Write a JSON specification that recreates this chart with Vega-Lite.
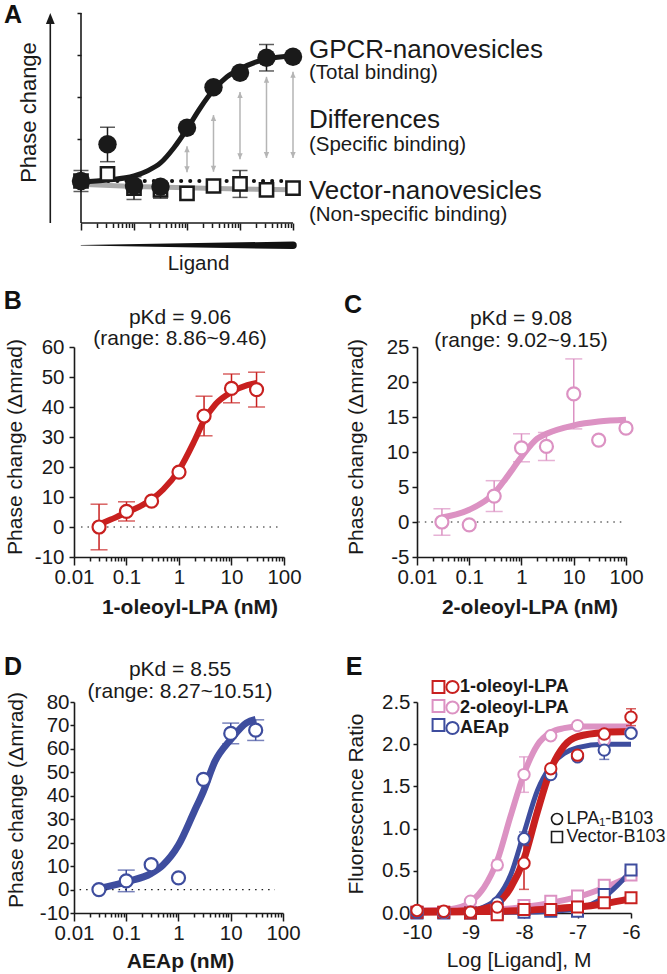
{
"$schema": "https://vega.github.io/schema/vega-lite/v6.json",
"background": "white",
"padding": {"left": 3, "top": 3, "right": 2, "bottom": 2},
"config": {
  "font": "Liberation Sans",
  "locale": {"number": {"decimal": ".", "thousands": ",", "grouping": [3], "currency": ["$", ""], "minus": "-"}},
  "view": {"stroke": null},
  "axis": {"domainColor": "#1a1a1a", "domainWidth": 1.6, "tickColor": "#1a1a1a", "tickWidth": 1.5, "labelColor": "#1a1a1a", "titleColor": "#1a1a1a", "labelFontSize": 20.5, "titleFontSize": 21, "titleFontWeight": "normal", "grid": false, "labelFlush": false, "labelOverlap": false, "labelBound": false, "labelSeparation": 0, "labelPadding": 4, "tickSize": 5},
  "text": {"color": "#1a1a1a"},
  "legend": {"labelColor": "#1a1a1a"}
},
"resolve": {"scale": {"shape": "independent", "size": "independent", "color": "independent", "stroke": "independent", "strokeWidth": "independent"}, "legend": {"shape": "independent", "size": "independent", "color": "independent", "stroke": "independent", "strokeWidth": "independent"}},
"datasets": {
  "a_pts": [
    {"conc": 1, "series": "GPCR", "value": 1.0},
    {"conc": 3.162, "series": "GPCR", "value": 1.874, "lo": 1.46, "hi": 2.28},
    {"conc": 10, "series": "GPCR", "value": 0.888},
    {"conc": 31.62, "series": "GPCR", "value": 0.864},
    {"conc": 100, "series": "GPCR", "value": 2.269},
    {"conc": 316.2, "series": "GPCR", "value": 3.231},
    {"conc": 1000, "series": "GPCR", "value": 3.579},
    {"conc": 3162, "series": "GPCR", "value": 3.936, "lo": 3.62, "hi": 4.25},
    {"conc": 10000, "series": "GPCR", "value": 3.96},
    {"conc": 1, "series": "Vector", "value": 1.0, "lo": 0.75, "hi": 1.25},
    {"conc": 3.162, "series": "Vector", "value": 1.167},
    {"conc": 10, "series": "Vector", "value": 0.833, "lo": 0.56, "hi": 1.1},
    {"conc": 31.62, "series": "Vector", "value": 0.786, "lo": 0.59, "hi": 0.98},
    {"conc": 100, "series": "Vector", "value": 0.707},
    {"conc": 316.2, "series": "Vector", "value": 0.881},
    {"conc": 1000, "series": "Vector", "value": 0.929, "lo": 0.61, "hi": 1.25},
    {"conc": 3162, "series": "Vector", "value": 0.786},
    {"conc": 10000, "series": "Vector", "value": 0.833}
  ],
  "a_fit": [
    {"conc": 1, "series": "GPCR", "value": 0.976},
    {"conc": 3.162, "series": "GPCR", "value": 1.024},
    {"conc": 10, "series": "GPCR", "value": 1.119},
    {"conc": 17.78, "series": "GPCR", "value": 1.238},
    {"conc": 31.62, "series": "GPCR", "value": 1.429},
    {"conc": 56.23, "series": "GPCR", "value": 1.786},
    {"conc": 100, "series": "GPCR", "value": 2.238},
    {"conc": 177.8, "series": "GPCR", "value": 2.738},
    {"conc": 316.2, "series": "GPCR", "value": 3.167},
    {"conc": 562.3, "series": "GPCR", "value": 3.476},
    {"conc": 1000, "series": "GPCR", "value": 3.667},
    {"conc": 3162, "series": "GPCR", "value": 3.905},
    {"conc": 10000, "series": "GPCR", "value": 3.976},
    {"conc": 1, "series": "Vector", "value": 0.92},
    {"conc": 10, "series": "Vector", "value": 0.87},
    {"conc": 100, "series": "Vector", "value": 0.84},
    {"conc": 1000, "series": "Vector", "value": 0.81},
    {"conc": 10000, "series": "Vector", "value": 0.79}
  ],
  "a_arrows": [
    {"conc": 100, "lo": 1.21, "hi": 1.83},
    {"conc": 316.2, "lo": 1.22, "hi": 2.57},
    {"conc": 1000, "lo": 1.52, "hi": 3.12},
    {"conc": 3162, "lo": 1.55, "hi": 3.48},
    {"conc": 10000, "lo": 1.55, "hi": 3.6}
  ],
  "a_labels": [
    {"label": "GPCR-nanovesicles", "kind": "main", "yv": 3.93},
    {"label": "(Total binding)", "kind": "sub", "yv": 3.43},
    {"label": "Differences", "kind": "main", "yv": 2.26},
    {"label": "(Specific binding)", "kind": "sub", "yv": 1.71},
    {"label": "Vector-nanovesicles", "kind": "main", "yv": 0.571},
    {"label": "(Non-specific binding)", "kind": "sub", "yv": 0.05}
  ],
  "b_pts": [
    {"conc": 0.03, "value": 0, "lo": -7.6, "hi": 7.6},
    {"conc": 0.1, "value": 5.2, "lo": 2.0, "hi": 8.4},
    {"conc": 0.3, "value": 8.6},
    {"conc": 1, "value": 18.3},
    {"conc": 3, "value": 37.0, "lo": 30.4, "hi": 43.6},
    {"conc": 10, "value": 46.2, "lo": 41.4, "hi": 51.0},
    {"conc": 30, "value": 45.8, "lo": 40.0, "hi": 51.6}
  ],
  "b_fit": [
    {"conc": 0.03, "value": 0.8}, {"conc": 0.05, "value": 2.5}, {"conc": 0.1, "value": 4.8},
    {"conc": 0.2, "value": 7.3}, {"conc": 0.3, "value": 9.2}, {"conc": 0.5, "value": 12.5},
    {"conc": 1, "value": 19}, {"conc": 2, "value": 29}, {"conc": 3, "value": 35.5},
    {"conc": 5, "value": 41}, {"conc": 10, "value": 45}, {"conc": 20, "value": 47.3}, {"conc": 30, "value": 48}
  ],
  "c_pts": [
    {"conc": 0.03, "value": 0, "lo": -1.9, "hi": 1.9},
    {"conc": 0.1, "value": -0.4},
    {"conc": 0.3, "value": 3.7, "lo": 1.5, "hi": 5.9},
    {"conc": 1, "value": 10.6, "lo": 8.6, "hi": 12.6},
    {"conc": 3, "value": 10.8, "lo": 8.8, "hi": 12.8},
    {"conc": 10, "value": 18.3, "lo": 13.3, "hi": 23.3},
    {"conc": 30, "value": 11.7},
    {"conc": 100, "value": 13.4}
  ],
  "c_fit": [
    {"conc": 0.03, "value": 0.66}, {"conc": 0.1, "value": 1.75}, {"conc": 0.3, "value": 4.1},
    {"conc": 0.5, "value": 6.2}, {"conc": 1, "value": 9.3}, {"conc": 2, "value": 11.9},
    {"conc": 3, "value": 12.6}, {"conc": 10, "value": 13.8}, {"conc": 30, "value": 14.35}, {"conc": 100, "value": 14.6}
  ],
  "d_pts": [
    {"conc": 0.03, "value": 0},
    {"conc": 0.1, "value": 3.7, "lo": -0.9, "hi": 8.3},
    {"conc": 0.3, "value": 10.6},
    {"conc": 1, "value": 5.0},
    {"conc": 3, "value": 47.0},
    {"conc": 10, "value": 66.6, "lo": 62.2, "hi": 71.0},
    {"conc": 30, "value": 68.0, "lo": 63.6, "hi": 72.4}
  ],
  "d_fit": [
    {"conc": 0.03, "value": 0.5}, {"conc": 0.1, "value": 3.3}, {"conc": 0.3, "value": 6.9},
    {"conc": 0.5, "value": 10.4}, {"conc": 1, "value": 19}, {"conc": 2, "value": 33.3},
    {"conc": 3, "value": 41.9}, {"conc": 5, "value": 54.7}, {"conc": 10, "value": 64},
    {"conc": 20, "value": 71.1}, {"conc": 30, "value": 72.6}
  ],
  "e_pts": [
    {"x": -10, "compound": "2-oleoyl-LPA", "cell": "Vector-B103", "value": 0.01},
    {"x": -9.5, "compound": "2-oleoyl-LPA", "cell": "Vector-B103", "value": 0.01},
    {"x": -9, "compound": "2-oleoyl-LPA", "cell": "Vector-B103", "value": 0.01},
    {"x": -8.5, "compound": "2-oleoyl-LPA", "cell": "Vector-B103", "value": 0.03},
    {"x": -8, "compound": "2-oleoyl-LPA", "cell": "Vector-B103", "value": 0.09},
    {"x": -7.5, "compound": "2-oleoyl-LPA", "cell": "Vector-B103", "value": 0.14},
    {"x": -7, "compound": "2-oleoyl-LPA", "cell": "Vector-B103", "value": 0.2},
    {"x": -6.5, "compound": "2-oleoyl-LPA", "cell": "Vector-B103", "value": 0.33},
    {"x": -6, "compound": "2-oleoyl-LPA", "cell": "Vector-B103", "value": 0.45},
    {"x": -10, "compound": "AEAp", "cell": "Vector-B103", "value": 0.0},
    {"x": -9.5, "compound": "AEAp", "cell": "Vector-B103", "value": 0.0},
    {"x": -9, "compound": "AEAp", "cell": "Vector-B103", "value": 0.0},
    {"x": -8.5, "compound": "AEAp", "cell": "Vector-B103", "value": 0.0},
    {"x": -8, "compound": "AEAp", "cell": "Vector-B103", "value": 0.01},
    {"x": -7.5, "compound": "AEAp", "cell": "Vector-B103", "value": 0.02},
    {"x": -7, "compound": "AEAp", "cell": "Vector-B103", "value": 0.02},
    {"x": -6.5, "compound": "AEAp", "cell": "Vector-B103", "value": 0.22},
    {"x": -6, "compound": "AEAp", "cell": "Vector-B103", "value": 0.51},
    {"x": -10, "compound": "1-oleoyl-LPA", "cell": "Vector-B103", "value": 0.01},
    {"x": -9.5, "compound": "1-oleoyl-LPA", "cell": "Vector-B103", "value": 0.01},
    {"x": -9, "compound": "1-oleoyl-LPA", "cell": "Vector-B103", "value": 0.0},
    {"x": -8.5, "compound": "1-oleoyl-LPA", "cell": "Vector-B103", "value": -0.02},
    {"x": -8, "compound": "1-oleoyl-LPA", "cell": "Vector-B103", "value": 0.04},
    {"x": -7.5, "compound": "1-oleoyl-LPA", "cell": "Vector-B103", "value": 0.04},
    {"x": -7, "compound": "1-oleoyl-LPA", "cell": "Vector-B103", "value": 0.07},
    {"x": -6.5, "compound": "1-oleoyl-LPA", "cell": "Vector-B103", "value": 0.12},
    {"x": -6, "compound": "1-oleoyl-LPA", "cell": "Vector-B103", "value": 0.18},
    {"x": -10, "compound": "2-oleoyl-LPA", "cell": "LPA\u2081-B103", "value": 0.02},
    {"x": -9.5, "compound": "2-oleoyl-LPA", "cell": "LPA\u2081-B103", "value": 0.01},
    {"x": -9, "compound": "2-oleoyl-LPA", "cell": "LPA\u2081-B103", "value": 0.14},
    {"x": -8.5, "compound": "2-oleoyl-LPA", "cell": "LPA\u2081-B103", "value": 0.57, "lo": 0.51, "hi": 0.63},
    {"x": -8, "compound": "2-oleoyl-LPA", "cell": "LPA\u2081-B103", "value": 1.64, "lo": 1.43, "hi": 1.85},
    {"x": -7.5, "compound": "2-oleoyl-LPA", "cell": "LPA\u2081-B103", "value": 2.1},
    {"x": -7, "compound": "2-oleoyl-LPA", "cell": "LPA\u2081-B103", "value": 2.22},
    {"x": -6.5, "compound": "2-oleoyl-LPA", "cell": "LPA\u2081-B103", "value": 2.05},
    {"x": -6, "compound": "2-oleoyl-LPA", "cell": "LPA\u2081-B103", "value": 2.14},
    {"x": -10, "compound": "AEAp", "cell": "LPA\u2081-B103", "value": 0.01},
    {"x": -9.5, "compound": "AEAp", "cell": "LPA\u2081-B103", "value": 0.01},
    {"x": -9, "compound": "AEAp", "cell": "LPA\u2081-B103", "value": 0.01},
    {"x": -8.5, "compound": "AEAp", "cell": "LPA\u2081-B103", "value": 0.12},
    {"x": -8, "compound": "AEAp", "cell": "LPA\u2081-B103", "value": 0.88, "lo": 0.8, "hi": 0.96},
    {"x": -7.5, "compound": "AEAp", "cell": "LPA\u2081-B103", "value": 1.64},
    {"x": -7, "compound": "AEAp", "cell": "LPA\u2081-B103", "value": 1.85},
    {"x": -6.5, "compound": "AEAp", "cell": "LPA\u2081-B103", "value": 1.93, "lo": 1.82, "hi": 2.04},
    {"x": -6, "compound": "AEAp", "cell": "LPA\u2081-B103", "value": 2.13},
    {"x": -10, "compound": "1-oleoyl-LPA", "cell": "LPA\u2081-B103", "value": 0.03},
    {"x": -9.5, "compound": "1-oleoyl-LPA", "cell": "LPA\u2081-B103", "value": 0.02},
    {"x": -9, "compound": "1-oleoyl-LPA", "cell": "LPA\u2081-B103", "value": 0.01},
    {"x": -8.5, "compound": "1-oleoyl-LPA", "cell": "LPA\u2081-B103", "value": 0.07},
    {"x": -8, "compound": "1-oleoyl-LPA", "cell": "LPA\u2081-B103", "value": 0.59, "lo": 0.28, "hi": 0.9},
    {"x": -7.5, "compound": "1-oleoyl-LPA", "cell": "LPA\u2081-B103", "value": 1.71},
    {"x": -7, "compound": "1-oleoyl-LPA", "cell": "LPA\u2081-B103", "value": 1.87},
    {"x": -6.5, "compound": "1-oleoyl-LPA", "cell": "LPA\u2081-B103", "value": 2.12},
    {"x": -6, "compound": "1-oleoyl-LPA", "cell": "LPA\u2081-B103", "value": 2.32, "lo": 2.22, "hi": 2.42}
  ],
  "e_fit": [
    {"x": -10, "compound": "2-oleoyl-LPA", "fit": "LPA1", "value": 0.03},
    {"x": -9.5, "compound": "2-oleoyl-LPA", "fit": "LPA1", "value": 0.04},
    {"x": -9.25, "compound": "2-oleoyl-LPA", "fit": "LPA1", "value": 0.06},
    {"x": -9, "compound": "2-oleoyl-LPA", "fit": "LPA1", "value": 0.13},
    {"x": -8.75, "compound": "2-oleoyl-LPA", "fit": "LPA1", "value": 0.3},
    {"x": -8.5, "compound": "2-oleoyl-LPA", "fit": "LPA1", "value": 0.62},
    {"x": -8.25, "compound": "2-oleoyl-LPA", "fit": "LPA1", "value": 1.15},
    {"x": -8, "compound": "2-oleoyl-LPA", "fit": "LPA1", "value": 1.65},
    {"x": -7.75, "compound": "2-oleoyl-LPA", "fit": "LPA1", "value": 1.99},
    {"x": -7.5, "compound": "2-oleoyl-LPA", "fit": "LPA1", "value": 2.14},
    {"x": -7.25, "compound": "2-oleoyl-LPA", "fit": "LPA1", "value": 2.19},
    {"x": -7, "compound": "2-oleoyl-LPA", "fit": "LPA1", "value": 2.21},
    {"x": -6.5, "compound": "2-oleoyl-LPA", "fit": "LPA1", "value": 2.21},
    {"x": -6, "compound": "2-oleoyl-LPA", "fit": "LPA1", "value": 2.21},
    {"x": -10, "compound": "2-oleoyl-LPA", "fit": "Vector", "value": 0.02},
    {"x": -9, "compound": "2-oleoyl-LPA", "fit": "Vector", "value": 0.02},
    {"x": -8.5, "compound": "2-oleoyl-LPA", "fit": "Vector", "value": 0.04},
    {"x": -8, "compound": "2-oleoyl-LPA", "fit": "Vector", "value": 0.07},
    {"x": -7.5, "compound": "2-oleoyl-LPA", "fit": "Vector", "value": 0.12},
    {"x": -7, "compound": "2-oleoyl-LPA", "fit": "Vector", "value": 0.19},
    {"x": -6.5, "compound": "2-oleoyl-LPA", "fit": "Vector", "value": 0.3},
    {"x": -6, "compound": "2-oleoyl-LPA", "fit": "Vector", "value": 0.44},
    {"x": -10, "compound": "AEAp", "fit": "LPA1", "value": 0.02},
    {"x": -9.5, "compound": "AEAp", "fit": "LPA1", "value": 0.02},
    {"x": -9, "compound": "AEAp", "fit": "LPA1", "value": 0.03},
    {"x": -8.75, "compound": "AEAp", "fit": "LPA1", "value": 0.07},
    {"x": -8.5, "compound": "AEAp", "fit": "LPA1", "value": 0.18},
    {"x": -8.25, "compound": "AEAp", "fit": "LPA1", "value": 0.45},
    {"x": -8, "compound": "AEAp", "fit": "LPA1", "value": 0.95},
    {"x": -7.75, "compound": "AEAp", "fit": "LPA1", "value": 1.45},
    {"x": -7.5, "compound": "AEAp", "fit": "LPA1", "value": 1.74},
    {"x": -7.25, "compound": "AEAp", "fit": "LPA1", "value": 1.89},
    {"x": -7, "compound": "AEAp", "fit": "LPA1", "value": 1.96},
    {"x": -6.5, "compound": "AEAp", "fit": "LPA1", "value": 2.0},
    {"x": -6, "compound": "AEAp", "fit": "LPA1", "value": 2.0},
    {"x": -10, "compound": "AEAp", "fit": "Vector", "value": 0.01},
    {"x": -8, "compound": "AEAp", "fit": "Vector", "value": 0.01},
    {"x": -7.5, "compound": "AEAp", "fit": "Vector", "value": 0.02},
    {"x": -7, "compound": "AEAp", "fit": "Vector", "value": 0.05},
    {"x": -6.75, "compound": "AEAp", "fit": "Vector", "value": 0.1},
    {"x": -6.5, "compound": "AEAp", "fit": "Vector", "value": 0.19},
    {"x": -6.25, "compound": "AEAp", "fit": "Vector", "value": 0.33},
    {"x": -6, "compound": "AEAp", "fit": "Vector", "value": 0.5},
    {"x": -10, "compound": "1-oleoyl-LPA", "fit": "LPA1", "value": 0.02},
    {"x": -9.5, "compound": "1-oleoyl-LPA", "fit": "LPA1", "value": 0.02},
    {"x": -9, "compound": "1-oleoyl-LPA", "fit": "LPA1", "value": 0.03},
    {"x": -8.75, "compound": "1-oleoyl-LPA", "fit": "LPA1", "value": 0.05},
    {"x": -8.5, "compound": "1-oleoyl-LPA", "fit": "LPA1", "value": 0.11},
    {"x": -8.25, "compound": "1-oleoyl-LPA", "fit": "LPA1", "value": 0.3},
    {"x": -8, "compound": "1-oleoyl-LPA", "fit": "LPA1", "value": 0.64},
    {"x": -7.75, "compound": "1-oleoyl-LPA", "fit": "LPA1", "value": 1.2},
    {"x": -7.5, "compound": "1-oleoyl-LPA", "fit": "LPA1", "value": 1.7},
    {"x": -7.25, "compound": "1-oleoyl-LPA", "fit": "LPA1", "value": 1.98},
    {"x": -7, "compound": "1-oleoyl-LPA", "fit": "LPA1", "value": 2.09},
    {"x": -6.5, "compound": "1-oleoyl-LPA", "fit": "LPA1", "value": 2.14},
    {"x": -6, "compound": "1-oleoyl-LPA", "fit": "LPA1", "value": 2.15},
    {"x": -10, "compound": "1-oleoyl-LPA", "fit": "Vector", "value": 0.01},
    {"x": -9, "compound": "1-oleoyl-LPA", "fit": "Vector", "value": 0.015},
    {"x": -8, "compound": "1-oleoyl-LPA", "fit": "Vector", "value": 0.03},
    {"x": -7.5, "compound": "1-oleoyl-LPA", "fit": "Vector", "value": 0.05},
    {"x": -7, "compound": "1-oleoyl-LPA", "fit": "Vector", "value": 0.07},
    {"x": -6.5, "compound": "1-oleoyl-LPA", "fit": "Vector", "value": 0.11},
    {"x": -6, "compound": "1-oleoyl-LPA", "fit": "Vector", "value": 0.17}
  ]
},
"columns": 2,
"spacing": {"row": 145, "column": 124},
"bounds": "flush",
"align": "each",
"concat": [
  {
    "width": 219,
    "height": 189,
    "layer": [
      {
        "data": {"values": [{"conc": 1}, {"conc": 10000}]},
        "mark": {"type": "trail", "color": "#111111"},
        "encoding": {
          "x": {"field": "conc", "type": "quantitative", "scale": {"type": "log", "domain": [0.738, 10000], "nice": false},
            "axis": {"values": [1,2,3,4,5,6,7,8,9,10,20,30,40,50,60,70,80,90,100,200,300,400,500,600,700,800,900,1000,2000,3000,4000,5000,6000,7000,8000,9000,10000], "tickCount": 100,
              "domain": false, "offset": 21, "labels": false, "tickSize": {"condition": {"test": "indexof([1,10,100,1000,10000], datum.value) >= 0", "value": 7}, "value": 4.5},
              "title": "Ligand", "titleFontSize": 20.5, "titleX": 124, "titleY": 40, "titleAlign": "center", "titleBaseline": "middle"}},
          "y": {"datum": -0.53, "type": "quantitative", "scale": {"domain": [0.5, 5], "nice": false, "zero": false},
            "axis": {"values": [1,2,3,4,5], "tickCount": 100, "domain": false, "offset": -7, "labels": false, "tickSize": 4, "title": "Phase change", "titleFontSize": 22, "titleX": -53, "titleY": 99, "titleAngle": 270, "titleAlign": "center", "titleBaseline": "middle"}},
          "size": {"field": "conc", "type": "quantitative", "scale": {"type": "log", "domain": [1, 10000], "range": [0.6, 7.5]}, "legend": null}
        }
      },
      {
        "data": {"values": [{"axis": "x"}]},
        "mark": {"type": "rule", "color": "#1a1a1a", "strokeWidth": 1.6},
        "encoding": {
          "x": {"datum": 1, "type": "quantitative", "scale": {"type": "log", "domain": [0.738, 10000], "nice": false}},
          "x2": {"datum": 10000},
          "y": {"datum": 0, "type": "quantitative", "scale": {"domain": [0.5, 5], "nice": false, "zero": false}}
        }
      },
      {
        "data": {"values": [{"axis": "y"}]},
        "mark": {"type": "rule", "color": "#1a1a1a", "strokeWidth": 1.6},
        "encoding": {
          "x": {"datum": 1, "type": "quantitative", "scale": {"type": "log", "domain": [0.738, 10000], "nice": false}},
          "y": {"datum": 0, "type": "quantitative", "scale": {"domain": [0.5, 5], "nice": false, "zero": false}},
          "y2": {"datum": 5}
        }
      },
      {
        "data": {"name": "a_fit"},
        "transform": [{"filter": "datum.series == 'Vector'"}],
        "mark": {"type": "line", "color": "#aaaaaa", "strokeWidth": 5, "interpolate": "monotone"},
        "encoding": {
          "x": {"field": "conc", "type": "quantitative", "scale": {"type": "log", "domain": [0.738, 10000], "nice": false}},
          "y": {"field": "value", "type": "quantitative", "scale": {"domain": [0.5, 5], "nice": false, "zero": false}}
        }
      },
      {
        "data": {"values": [{"level": 1.0}]},
        "mark": {"type": "rule", "color": "#111111", "strokeWidth": 4, "strokeDash": [0.1, 9], "strokeCap": "round"},
        "encoding": {
          "x": {"datum": 1, "type": "quantitative", "scale": {"type": "log", "domain": [0.738, 10000], "nice": false}},
          "x2": {"datum": 6000},
          "y": {"field": "level", "type": "quantitative", "scale": {"domain": [0.5, 5], "nice": false, "zero": false}}
        }
      },
      {
        "data": {"name": "a_fit"},
        "transform": [{"filter": "datum.series == 'GPCR'"}],
        "mark": {"type": "line", "color": "#1a1a1a", "strokeWidth": 5, "interpolate": "monotone"},
        "encoding": {
          "x": {"field": "conc", "type": "quantitative", "scale": {"type": "log", "domain": [0.738, 10000], "nice": false}},
          "y": {"field": "value", "type": "quantitative", "scale": {"domain": [0.5, 5], "nice": false, "zero": false}}
        }
      },
      {
        "data": {"name": "a_pts"},
        "transform": [{"filter": "isValid(datum.hi)"}],
        "mark": {"type": "errorbar", "ticks": true, "size": 15, "thickness": 1.5, "color": "#1a1a1a"},
        "encoding": {
          "x": {"field": "conc", "type": "quantitative", "title": "Ligand", "scale": {"type": "log", "domain": [0.738, 10000], "nice": false}},
          "y": {"field": "lo", "type": "quantitative", "title": "Phase change", "scale": {"domain": [0.5, 5], "nice": false, "zero": false}},
          "y2": {"field": "hi"}
        }
      },
      {
        "data": {"name": "a_pts"},
        "transform": [{"filter": "datum.series == 'Vector'"}],
        "mark": {"type": "point", "shape": "square", "size": 175, "filled": true, "fill": "white", "stroke": "#1a1a1a", "strokeWidth": 2.5, "opacity": 1},
        "encoding": {
          "x": {"field": "conc", "type": "quantitative", "scale": {"type": "log", "domain": [0.738, 10000], "nice": false}},
          "y": {"field": "value", "type": "quantitative", "scale": {"domain": [0.5, 5], "nice": false, "zero": false}}
        }
      },
      {
        "data": {"name": "a_pts"},
        "transform": [{"filter": "datum.series == 'GPCR'"}],
        "mark": {"type": "point", "shape": "circle", "size": 340, "filled": true, "color": "#1a1a1a", "opacity": 1},
        "encoding": {
          "x": {"field": "conc", "type": "quantitative", "scale": {"type": "log", "domain": [0.738, 10000], "nice": false}},
          "y": {"field": "value", "type": "quantitative", "scale": {"domain": [0.5, 5], "nice": false, "zero": false}}
        }
      },
      {
        "data": {"name": "a_arrows"},
        "mark": {"type": "rule", "color": "#b5b5b5", "strokeWidth": 1.5},
        "encoding": {
          "x": {"field": "conc", "type": "quantitative", "scale": {"type": "log", "domain": [0.738, 10000], "nice": false}},
          "y": {"field": "lo", "type": "quantitative", "scale": {"domain": [0.5, 5], "nice": false, "zero": false}},
          "y2": {"field": "hi"}
        }
      },
      {
        "data": {"name": "a_arrows"},
        "mark": {"type": "point", "shape": "M0,0L-0.45,1L0.45,1Z", "size": 144, "filled": true, "color": "#b5b5b5", "opacity": 1},
        "encoding": {
          "x": {"field": "conc", "type": "quantitative", "scale": {"type": "log", "domain": [0.738, 10000], "nice": false}},
          "y": {"field": "hi", "type": "quantitative", "scale": {"domain": [0.5, 5], "nice": false, "zero": false}}
        }
      },
      {
        "data": {"name": "a_arrows"},
        "mark": {"type": "point", "shape": "M0,0L-0.45,-1L0.45,-1Z", "size": 144, "filled": true, "color": "#b5b5b5", "opacity": 1},
        "encoding": {
          "x": {"field": "conc", "type": "quantitative", "scale": {"type": "log", "domain": [0.738, 10000], "nice": false}},
          "y": {"field": "lo", "type": "quantitative", "scale": {"domain": [0.5, 5], "nice": false, "zero": false}}
        }
      },
      {
        "data": {"values": [{"axis": "phase"}]},
        "mark": {"type": "rule", "color": "#1a1a1a", "strokeWidth": 1.6},
        "encoding": {
          "x": {"datum": 0.2635, "type": "quantitative", "scale": {"type": "log", "domain": [0.738, 10000], "nice": false}},
          "y": {"datum": 0, "type": "quantitative", "scale": {"domain": [0.5, 5], "nice": false, "zero": false}},
          "y2": {"datum": 4.85}
        }
      },
      {
        "data": {"values": [{"axis": "phase"}]},
        "mark": {"type": "point", "shape": "M0,0L-0.4,1L0.4,1Z", "size": 484, "filled": true, "color": "#1a1a1a", "opacity": 1},
        "encoding": {
          "x": {"datum": 0.2635, "type": "quantitative", "scale": {"type": "log", "domain": [0.738, 10000], "nice": false}},
          "y": {"datum": 5.0, "type": "quantitative", "scale": {"domain": [0.5, 5], "nice": false, "zero": false}}
        }
      },
      {
        "data": {"name": "a_labels"},
        "transform": [{"filter": "datum.kind == 'main'"}],
        "mark": {"type": "text", "align": "left", "baseline": "alphabetic", "fontSize": 26, "color": "#1a1a1a"},
        "encoding": {
          "x": {"datum": 20000, "type": "quantitative", "scale": {"type": "log", "domain": [0.738, 10000], "nice": false}},
          "y": {"field": "yv", "type": "quantitative", "scale": {"domain": [0.5, 5], "nice": false, "zero": false}},
          "text": {"field": "label"}
        }
      },
      {
        "data": {"name": "a_labels"},
        "transform": [{"filter": "datum.kind == 'sub'"}],
        "mark": {"type": "text", "align": "left", "baseline": "alphabetic", "fontSize": 20.5, "color": "#1a1a1a"},
        "encoding": {
          "x": {"datum": 20000, "type": "quantitative", "scale": {"type": "log", "domain": [0.738, 10000], "nice": false}},
          "y": {"field": "yv", "type": "quantitative", "scale": {"domain": [0.5, 5], "nice": false, "zero": false}},
          "text": {"field": "label"}
        }
      },
      {
        "data": {"values": [{"t": "A"}]},
        "mark": {"type": "text", "align": "left", "baseline": "alphabetic", "fontSize": 25, "fontWeight": "bold", "color": "#111111"},
        "encoding": {
          "x": {"datum": 0.0352, "type": "quantitative", "scale": {"type": "log", "domain": [0.738, 10000], "nice": false}},
          "y": {"datum": 4.76, "type": "quantitative", "scale": {"domain": [0.5, 5], "nice": false, "zero": false}},
          "text": {"field": "t"}
        }
      }
    ]
  },
  {"width": 1, "height": 1, "data": {"values": [{"spacer": 1}]}, "mark": {"type": "point", "opacity": 0}},
  {
    "width": 210, "height": 210,
    "layer": [
      {
        "data": {"name": "b_fit"},
        "mark": {"type": "line", "color": "#c8201f", "strokeWidth": 6, "interpolate": "monotone"},
        "encoding": {
          "x": {"field": "conc", "type": "quantitative", "scale": {"type": "log", "domain": [0.01, 100], "nice": false},
            "axis": {"values": [0.01,0.02,0.03,0.04,0.05,0.06,0.07,0.08,0.09,0.1,0.2,0.3,0.4,0.5,0.6,0.7,0.8,0.9,1,2,3,4,5,6,7,8,9,10,20,30,40,50,60,70,80,90,100], "tickCount": 100,
              "labelExpr": "indexof([0.01,0.1,1,10,100], datum.value) >= 0 ? format(datum.value, '~g') : ''", "labelOverlap": false,
              "tickSize": {"condition": {"test": "indexof([0.01,0.1,1,10,100], datum.value) >= 0", "value": 8}, "value": 4},
              "labelPadding": 2, "title": "1-oleoyl-LPA (nM)", "titleFontWeight": "bold", "titleX": 115.5, "titleY": 50, "titleAlign": "center", "titleBaseline": "middle"}},
          "y": {"field": "value", "type": "quantitative", "scale": {"domain": [-10, 60], "nice": false, "zero": false},
            "axis": {"values": [-10,0,10,20,30,40,50,60], "tickCount": 100, "format": "d", "labelOverlap": false, "tickSize": 5, "labelPadding": 5,
              "title": "Phase change (\u0394mrad)", "titleX": -58.5, "titleY": 99.5, "titleAngle": 270, "titleAlign": "center", "titleBaseline": "middle"}}
        }
      },
      {
        "data": {"name": "b_pts"},
        "transform": [{"filter": "isValid(datum.hi)"}],
        "mark": {"type": "errorbar", "ticks": true, "size": 17, "thickness": 1.5, "color": "#c8201f"},
        "encoding": {
          "x": {"field": "conc", "type": "quantitative", "title": "1-oleoyl-LPA (nM)", "scale": {"type": "log", "domain": [0.01, 100], "nice": false}},
          "y": {"field": "lo", "type": "quantitative", "title": "Phase change (\u0394mrad)", "scale": {"domain": [-10, 60], "nice": false, "zero": false}},
          "y2": {"field": "hi"}
        }
      },
      {
        "data": {"values": [{"level": 0}]},
        "mark": {"type": "rule", "color": "#1a1a1a", "strokeWidth": 1.2, "strokeDash": [1.5, 5]},
        "encoding": {
          "x": {"datum": 0.0136, "type": "quantitative", "scale": {"type": "log", "domain": [0.01, 100], "nice": false}},
          "x2": {"datum": 80},
          "y": {"field": "level", "type": "quantitative", "scale": {"domain": [-10, 60], "nice": false, "zero": false}}
        }
      },
      {
        "data": {"name": "b_pts"},
        "mark": {"type": "point", "shape": "circle", "size": 170, "filled": true, "fill": "white", "stroke": "#c8201f", "strokeWidth": 2.2, "opacity": 1},
        "encoding": {
          "x": {"field": "conc", "type": "quantitative", "scale": {"type": "log", "domain": [0.01, 100], "nice": false}},
          "y": {"field": "value", "type": "quantitative", "scale": {"domain": [-10, 60], "nice": false, "zero": false}}
        }
      },
      {
        "data": {"values": [{"t": "pKd = 9.06"}]},
        "mark": {"type": "text", "align": "center", "baseline": "alphabetic", "fontSize": 21},
        "encoding": {
          "x": {"datum": 1.045, "type": "quantitative", "scale": {"type": "log", "domain": [0.01, 100], "nice": false}},
          "y": {"datum": 67.67, "type": "quantitative", "scale": {"domain": [-10, 60], "nice": false, "zero": false}},
          "text": {"field": "t"}
        }
      },
      {
        "data": {"values": [{"t": "(range: 8.86~9.46)"}]},
        "mark": {"type": "text", "align": "center", "baseline": "alphabetic", "fontSize": 21},
        "encoding": {
          "x": {"datum": 1.045, "type": "quantitative", "scale": {"type": "log", "domain": [0.01, 100], "nice": false}},
          "y": {"datum": 60.67, "type": "quantitative", "scale": {"domain": [-10, 60], "nice": false, "zero": false}},
          "text": {"field": "t"}
        }
      },
      {
        "data": {"values": [{"t": "B"}]},
        "mark": {"type": "text", "align": "left", "baseline": "alphabetic", "fontSize": 25, "fontWeight": "bold", "color": "#111111"},
        "encoding": {
          "x": {"datum": 0.00046, "type": "quantitative", "scale": {"type": "log", "domain": [0.01, 100], "nice": false}},
          "y": {"datum": 72.67, "type": "quantitative", "scale": {"domain": [-10, 60], "nice": false, "zero": false}},
          "text": {"field": "t"}
        }
      }
    ]
  },
  {
    "width": 209, "height": 210,
    "layer": [
      {
        "data": {"name": "c_fit"},
        "mark": {"type": "line", "color": "#dc92c3", "strokeWidth": 6, "interpolate": "monotone"},
        "encoding": {
          "x": {"field": "conc", "type": "quantitative", "scale": {"type": "log", "domain": [0.01, 100], "nice": false},
            "axis": {"values": [0.01,0.02,0.03,0.04,0.05,0.06,0.07,0.08,0.09,0.1,0.2,0.3,0.4,0.5,0.6,0.7,0.8,0.9,1,2,3,4,5,6,7,8,9,10,20,30,40,50,60,70,80,90,100], "tickCount": 100,
              "labelExpr": "indexof([0.01,0.1,1,10,100], datum.value) >= 0 ? format(datum.value, '~g') : ''", "labelOverlap": false,
              "tickSize": {"condition": {"test": "indexof([0.01,0.1,1,10,100], datum.value) >= 0", "value": 8}, "value": 4},
              "labelPadding": 2, "title": "2-oleoyl-LPA (nM)", "titleFontWeight": "bold", "titleX": 112.5, "titleY": 50.5, "titleAlign": "center", "titleBaseline": "middle"}},
          "y": {"field": "value", "type": "quantitative", "scale": {"domain": [-5, 25], "nice": false, "zero": false},
            "axis": {"values": [-5,0,5,10,15,20,25], "tickCount": 100, "format": "d", "labelOverlap": false, "tickSize": 5, "labelPadding": 3,
              "title": "Phase change (\u0394mrad)", "titleX": -60.3, "titleY": 99.5, "titleAngle": 270, "titleAlign": "center", "titleBaseline": "middle"}}
        }
      },
      {
        "data": {"name": "c_pts"},
        "transform": [{"filter": "isValid(datum.hi)"}],
        "mark": {"type": "errorbar", "ticks": true, "size": 17, "thickness": 1.5, "color": "#dc92c3"},
        "encoding": {
          "x": {"field": "conc", "type": "quantitative", "title": "2-oleoyl-LPA (nM)", "scale": {"type": "log", "domain": [0.01, 100], "nice": false}},
          "y": {"field": "lo", "type": "quantitative", "title": "Phase change (\u0394mrad)", "scale": {"domain": [-5, 25], "nice": false, "zero": false}},
          "y2": {"field": "hi"}
        }
      },
      {
        "data": {"values": [{"level": 0}]},
        "mark": {"type": "rule", "color": "#1a1a1a", "strokeWidth": 1.2, "strokeDash": [1.5, 5]},
        "encoding": {
          "x": {"datum": 0.0106, "type": "quantitative", "scale": {"type": "log", "domain": [0.01, 100], "nice": false}},
          "x2": {"datum": 87},
          "y": {"field": "level", "type": "quantitative", "scale": {"domain": [-5, 25], "nice": false, "zero": false}}
        }
      },
      {
        "data": {"name": "c_pts"},
        "mark": {"type": "point", "shape": "circle", "size": 170, "filled": true, "fill": "white", "stroke": "#dc92c3", "strokeWidth": 2.2, "opacity": 1},
        "encoding": {
          "x": {"field": "conc", "type": "quantitative", "scale": {"type": "log", "domain": [0.01, 100], "nice": false}},
          "y": {"field": "value", "type": "quantitative", "scale": {"domain": [-5, 25], "nice": false, "zero": false}}
        }
      },
      {
        "data": {"values": [{"t": "pKd = 9.08"}]},
        "mark": {"type": "text", "align": "center", "baseline": "alphabetic", "fontSize": 21},
        "encoding": {
          "x": {"datum": 0.978, "type": "quantitative", "scale": {"type": "log", "domain": [0.01, 100], "nice": false}},
          "y": {"datum": 28.14, "type": "quantitative", "scale": {"domain": [-5, 25], "nice": false, "zero": false}},
          "text": {"field": "t"}
        }
      },
      {
        "data": {"values": [{"t": "(range: 9.02~9.15)"}]},
        "mark": {"type": "text", "align": "center", "baseline": "alphabetic", "fontSize": 21},
        "encoding": {
          "x": {"datum": 0.978, "type": "quantitative", "scale": {"type": "log", "domain": [0.01, 100], "nice": false}},
          "y": {"datum": 25.0, "type": "quantitative", "scale": {"domain": [-5, 25], "nice": false, "zero": false}},
          "text": {"field": "t"}
        }
      },
      {
        "data": {"values": [{"t": "C"}]},
        "mark": {"type": "text", "align": "left", "baseline": "alphabetic", "fontSize": 25, "fontWeight": "bold", "color": "#111111"},
        "encoding": {
          "x": {"datum": 0.000401, "type": "quantitative", "scale": {"type": "log", "domain": [0.01, 100], "nice": false}},
          "y": {"datum": 29.86, "type": "quantitative", "scale": {"domain": [-5, 25], "nice": false, "zero": false}},
          "text": {"field": "t"}
        }
      }
    ]
  },
  {
    "width": 209, "height": 211,
    "layer": [
      {
        "data": {"name": "d_fit"},
        "mark": {"type": "line", "color": "#3e4d9e", "strokeWidth": 7, "interpolate": "monotone"},
        "encoding": {
          "x": {"field": "conc", "type": "quantitative", "scale": {"type": "log", "domain": [0.01, 100], "nice": false},
            "axis": {"values": [0.01,0.02,0.03,0.04,0.05,0.06,0.07,0.08,0.09,0.1,0.2,0.3,0.4,0.5,0.6,0.7,0.8,0.9,1,2,3,4,5,6,7,8,9,10,20,30,40,50,60,70,80,90,100], "tickCount": 100,
              "labelExpr": "indexof([0.01,0.1,1,10,100], datum.value) >= 0 ? format(datum.value, '~g') : ''", "labelOverlap": false,
              "tickSize": {"condition": {"test": "indexof([0.01,0.1,1,10,100], datum.value) >= 0", "value": 8}, "value": 4},
              "labelPadding": 2, "title": "AEAp (nM)", "titleFontWeight": "bold", "titleX": 106, "titleY": 48, "titleAlign": "center", "titleBaseline": "middle"}},
          "y": {"field": "value", "type": "quantitative", "scale": {"domain": [-10, 80], "nice": false, "zero": false},
            "axis": {"values": [-10,0,10,20,30,40,50,60,70,80], "tickCount": 100, "format": "d", "labelOverlap": false, "tickSize": 4, "labelPadding": 1,
              "title": "Phase change (\u0394mrad)", "titleX": -57.5, "titleY": 97.5, "titleAngle": 270, "titleAlign": "center", "titleBaseline": "middle"}}
        }
      },
      {
        "data": {"name": "d_pts"},
        "transform": [{"filter": "isValid(datum.hi)"}],
        "mark": {"type": "errorbar", "ticks": true, "size": 17, "thickness": 1.5, "color": "#3e4d9e"},
        "encoding": {
          "x": {"field": "conc", "type": "quantitative", "title": "AEAp (nM)", "scale": {"type": "log", "domain": [0.01, 100], "nice": false}},
          "y": {"field": "lo", "type": "quantitative", "title": "Phase change (\u0394mrad)", "scale": {"domain": [-10, 80], "nice": false, "zero": false}},
          "y2": {"field": "hi"}
        }
      },
      {
        "data": {"values": [{"level": 0}]},
        "mark": {"type": "rule", "color": "#1a1a1a", "strokeWidth": 1.2, "strokeDash": [1.5, 5]},
        "encoding": {
          "x": {"datum": 0.0128, "type": "quantitative", "scale": {"type": "log", "domain": [0.01, 100], "nice": false}},
          "x2": {"datum": 70},
          "y": {"field": "level", "type": "quantitative", "scale": {"domain": [-10, 80], "nice": false, "zero": false}}
        }
      },
      {
        "data": {"name": "d_pts"},
        "mark": {"type": "point", "shape": "circle", "size": 170, "filled": true, "fill": "white", "stroke": "#3e4d9e", "strokeWidth": 2.2, "opacity": 1},
        "encoding": {
          "x": {"field": "conc", "type": "quantitative", "scale": {"type": "log", "domain": [0.01, 100], "nice": false}},
          "y": {"field": "value", "type": "quantitative", "scale": {"domain": [-10, 80], "nice": false, "zero": false}}
        }
      },
      {
        "data": {"values": [{"t": "pKd = 8.55"}]},
        "mark": {"type": "text", "align": "center", "baseline": "alphabetic", "fontSize": 21},
        "encoding": {
          "x": {"datum": 1.068, "type": "quantitative", "scale": {"type": "log", "domain": [0.01, 100], "nice": false}},
          "y": {"datum": 91.1, "type": "quantitative", "scale": {"domain": [-10, 80], "nice": false, "zero": false}},
          "text": {"field": "t"}
        }
      },
      {
        "data": {"values": [{"t": "(range: 8.27~10.51)"}]},
        "mark": {"type": "text", "align": "center", "baseline": "alphabetic", "fontSize": 21},
        "encoding": {
          "x": {"datum": 1.068, "type": "quantitative", "scale": {"type": "log", "domain": [0.01, 100], "nice": false}},
          "y": {"datum": 81.9, "type": "quantitative", "scale": {"domain": [-10, 80], "nice": false, "zero": false}},
          "text": {"field": "t"}
        }
      },
      {
        "data": {"values": [{"t": "D"}]},
        "mark": {"type": "text", "align": "left", "baseline": "alphabetic", "fontSize": 25, "fontWeight": "bold", "color": "#111111"},
        "encoding": {
          "x": {"datum": 0.000457, "type": "quantitative", "scale": {"type": "log", "domain": [0.01, 100], "nice": false}},
          "y": {"datum": 91.5, "type": "quantitative", "scale": {"domain": [-10, 80], "nice": false, "zero": false}},
          "text": {"field": "t"}
        }
      }
    ]
  },
  {
    "width": 214, "height": 211,
    "resolve": {"scale": {"stroke": "independent"}, "legend": {"stroke": "independent"}},
    "layer": [
      {
        "data": {"name": "e_fit"},
        "mark": {"type": "line", "interpolate": "monotone"},
        "encoding": {
          "x": {"field": "x", "type": "quantitative", "title": "Log [Ligand], M", "scale": {"domain": [-10, -6], "nice": false, "zero": false},
            "axis": {"values": [-10,-9,-8,-7,-6], "tickCount": 100, "format": "d", "labelOverlap": false, "tickSize": 5, "labelPadding": 4,
              "title": "Log [Ligand], M", "titleX": 101.5, "titleY": 47, "titleAlign": "center", "titleBaseline": "middle"}},
          "y": {"field": "value", "type": "quantitative", "title": "Fluorescence Ratio", "scale": {"domain": [0, 2.5], "nice": false, "zero": false},
            "axis": {"values": [0,0.5,1,1.5,2,2.5], "tickCount": 100, "format": ".1f", "labelOverlap": false, "tickSize": 4, "labelPadding": 3,
              "title": "Fluorescence Ratio", "titleX": -60.5, "titleY": 101.5, "titleAngle": 270, "titleAlign": "center", "titleBaseline": "middle"}},
          "stroke": {"field": "compound", "type": "nominal", "scale": {"domain": ["1-oleoyl-LPA", "2-oleoyl-LPA", "AEAp"], "range": ["#c8201f", "#dc92c3", "#3e4d9e"]}, "legend": null},
          "strokeWidth": {"field": "compound", "type": "nominal", "scale": {"domain": ["1-oleoyl-LPA", "2-oleoyl-LPA", "AEAp"], "range": [7, 5, 5.5]}, "legend": null},
          "detail": {"field": "fit"}
        }
      },
      {
        "data": {"name": "e_pts"},
        "transform": [{"filter": "isValid(datum.hi)"}],
        "mark": {"type": "errorbar", "ticks": true, "size": 10, "thickness": 1.5},
        "encoding": {
          "x": {"field": "x", "type": "quantitative", "title": "Log [Ligand], M", "scale": {"domain": [-10, -6], "nice": false, "zero": false}},
          "y": {"field": "lo", "type": "quantitative", "title": "Fluorescence Ratio", "scale": {"domain": [0, 2.5], "nice": false, "zero": false}},
          "y2": {"field": "hi"},
          "color": {"field": "compound", "type": "nominal", "scale": {"domain": ["1-oleoyl-LPA", "2-oleoyl-LPA", "AEAp"], "range": ["#c8201f", "#dc92c3", "#3e4d9e"]}, "legend": null}
        }
      },
      {
        "data": {"name": "e_pts"},
        "transform": [{"filter": "datum.cell == 'Vector-B103'"}],
        "mark": {"type": "point", "shape": "square", "size": 121, "filled": true, "fill": "white", "strokeWidth": 2, "opacity": 1},
        "encoding": {
          "x": {"field": "x", "type": "quantitative", "title": "Log [Ligand], M", "scale": {"domain": [-10, -6], "nice": false, "zero": false}},
          "y": {"field": "value", "type": "quantitative", "title": "Fluorescence Ratio", "scale": {"domain": [0, 2.5], "nice": false, "zero": false}},
          "stroke": {"field": "compound", "type": "nominal", "scale": {"domain": ["1-oleoyl-LPA", "2-oleoyl-LPA", "AEAp"], "range": ["#c8201f", "#dc92c3", "#3e4d9e"]},
            "legend": {"orient": "none", "legendX": 12.5, "legendY": -24, "title": null, "symbolType": "square", "symbolSize": 140, "symbolStrokeWidth": 2, "symbolFillColor": "white", "labelFontSize": 18, "labelFontWeight": "bold", "labelOpacity": 0, "labelOffset": -1.5, "rowPadding": -1.5, "padding": 0}}
        }
      },
      {
        "data": {"name": "e_pts"},
        "transform": [{"filter": "datum.cell != 'Vector-B103'"}],
        "mark": {"type": "point", "shape": "circle", "size": 130, "filled": true, "fill": "white", "strokeWidth": 2, "opacity": 1},
        "encoding": {
          "x": {"field": "x", "type": "quantitative", "title": "Log [Ligand], M", "scale": {"domain": [-10, -6], "nice": false, "zero": false}},
          "y": {"field": "value", "type": "quantitative", "title": "Fluorescence Ratio", "scale": {"domain": [0, 2.5], "nice": false, "zero": false}},
          "stroke": {"field": "compound", "type": "nominal", "scale": {"domain": ["1-oleoyl-LPA", "2-oleoyl-LPA", "AEAp"], "range": ["#c8201f", "#dc92c3", "#3e4d9e"]},
            "legend": {"orient": "none", "legendX": 26.5, "legendY": -24, "title": null, "symbolType": "circle", "symbolSize": 150, "symbolStrokeWidth": 2, "symbolFillColor": "white", "labelFontSize": 18, "labelFontWeight": "bold", "labelOffset": -1.5, "rowPadding": -1.5, "padding": 0}}
        }
      },
      {
        "data": {"name": "e_pts"},
        "transform": [{"filter": "false"}],
        "mark": {"type": "point", "filled": false, "color": "#1a1a1a", "strokeWidth": 1.6, "opacity": 1},
        "encoding": {
          "x": {"field": "x", "type": "quantitative", "title": "Log [Ligand], M", "scale": {"domain": [-10, -6], "nice": false, "zero": false}},
          "y": {"field": "value", "type": "quantitative", "title": "Fluorescence Ratio", "scale": {"domain": [0, 2.5], "nice": false, "zero": false}},
          "shape": {"field": "cell", "type": "nominal", "scale": {"domain": ["LPA\u2081-B103", "Vector-B103"], "range": ["circle", "square"]},
            "legend": {"orient": "none", "legendX": 131, "legendY": 108, "title": null, "symbolSize": 120, "symbolStrokeWidth": 1.6, "symbolStrokeColor": "#1a1a1a", "labelFontSize": 18, "labelOffset": 0.5, "rowPadding": -1, "padding": 0}}
        }
      },
      {
        "data": {"values": [{"t": "E"}]},
        "mark": {"type": "text", "align": "left", "baseline": "alphabetic", "fontSize": 25, "fontWeight": "bold", "color": "#111111"},
        "encoding": {
          "x": {"datum": -11.33, "type": "quantitative", "scale": {"domain": [-10, -6], "nice": false, "zero": false}},
          "y": {"datum": 2.82, "type": "quantitative", "scale": {"domain": [0, 2.5], "nice": false, "zero": false}},
          "text": {"field": "t"}
        }
      }
    ]
  }
]
}
